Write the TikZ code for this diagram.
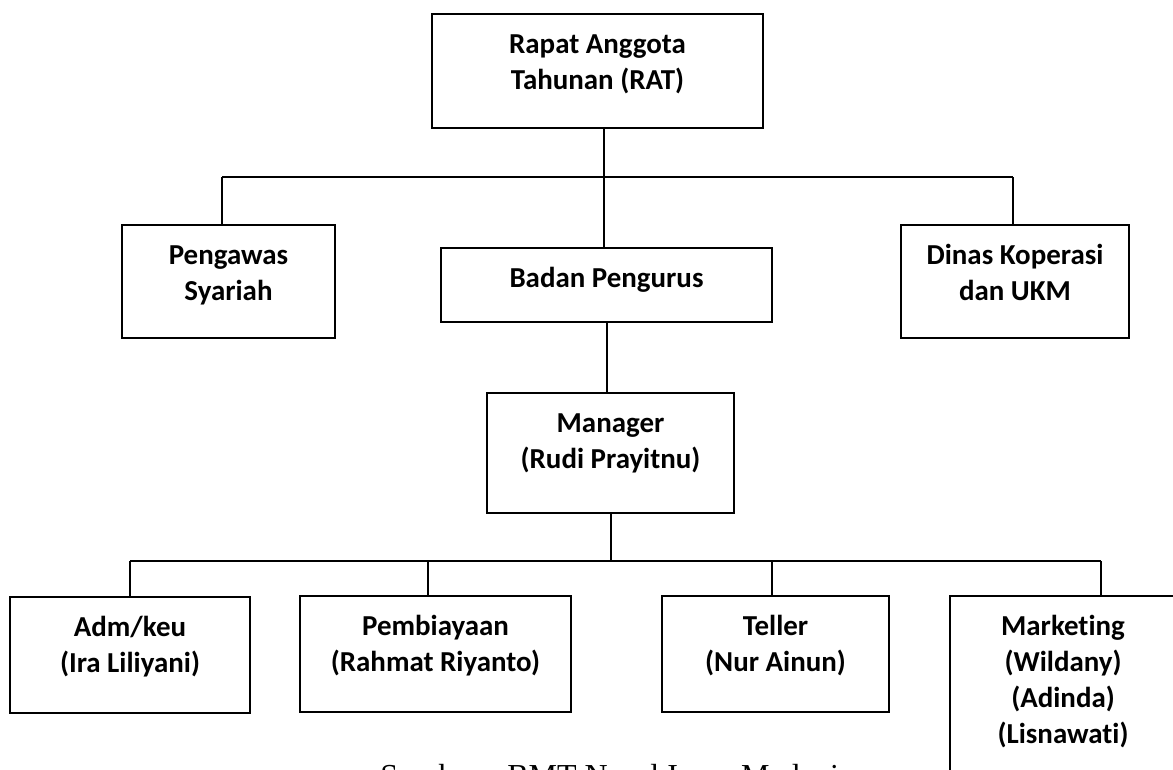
\documentclass[tikz,border=0pt]{standalone}
\usepackage{fontspec}
\setmainfont{Carlito}[Ligatures={NoCommon}]
\newfontfamily\srcfont{Liberation Serif}
\newdimen\px \px=0.75pt
\begin{document}
\begin{tikzpicture}[x=0.75pt,y=-0.75pt,
  box/.style={draw, line width=2pt, rectangle, inner sep=0pt, outer sep=0pt},
  lbl/.style={anchor=north, inner sep=0pt, align=center, font=\fontsize{21.7}{27}\selectfont\bfseries},
  conn/.style={line width=1.2pt}]
\useasboundingbox (0,0) rectangle (1173,769);
\fill[white] (0,0) rectangle (1173,769);

% boxes
\node[box, minimum width=331\px, minimum height=114\px] (rat) at (597.5,71) {};
\node[box, minimum width=213\px, minimum height=113\px] (peng) at (228.5,281.5) {};
\node[box, minimum width=331\px, minimum height=74\px] (badan) at (606.5,285) {};
\node[box, minimum width=228\px, minimum height=113\px] (dinas) at (1015,281.5) {};
\node[box, minimum width=247\px, minimum height=120\px] (mgr) at (610.5,453) {};
\node[box, minimum width=240\px, minimum height=116\px] (adm) at (130,655) {};
\node[box, minimum width=271\px, minimum height=116\px] (pemb) at (435.5,654) {};
\node[box, minimum width=227\px, minimum height=116\px] (tell) at (775.5,654) {};
\node[box, minimum width=226\px, minimum height=204\px] (mkt) at (1063,698) {};

% labels
\node[lbl] (ratT) at ([yshift=-10.7pt]rat.north) {\strut Rapat Anggota\\Tahunan (RAT)};
\node[lbl] (pengT) at ([yshift=-10.7pt]peng.north) {\strut Pengawas\\Syariah};
\node[lbl] (badanT) at ([yshift=-10.7pt]badan.north) {\strut Badan Pengurus};
\node[lbl] (dinasT) at ([yshift=-10.7pt]dinas.north) {\strut Dinas Koperasi\\dan UKM};
\node[lbl] (mgrT) at ([yshift=-10.7pt]mgr.north) {\strut Manager\\(Rudi Prayitnu)};
\node[lbl] (admT) at ([yshift=-10.7pt]adm.north) {\strut Adm/keu\\(Ira Liliyani)};
\node[lbl] (pembT) at ([yshift=-10.7pt]pemb.north) {\strut Pembiayaan\\(Rahmat Riyanto)};
\node[lbl] (tellT) at ([yshift=-10.7pt]tell.north) {\strut Teller\\(Nur Ainun)};
\node[lbl] (mktT) at ([yshift=-10.7pt]mkt.north) {\strut Marketing\\(Wildany)\\(Adinda)\\(Lisnawati)};

% junction coordinates
\coordinate (jm) at (604,177);
\coordinate (jl) at (222,177);
\coordinate (jr) at (1013,177);
\coordinate (s1) at (607,0);
\coordinate (bm) at (611,561);
\coordinate (b1) at (130,561);
\coordinate (b2) at (428,561);
\coordinate (b3) at (772,561);
\coordinate (b4) at (1101,561);

% connectors
\draw[conn] (rat.south -| jm) -- (badan.north -| jm);
\draw[conn] (jl) -- (jr);
\draw[conn] (jl) -- (peng.north -| jl);
\draw[conn] (jr) -- (dinas.north -| jr);
\draw[conn] (badan.south -| s1) -- (mgr.north -| s1);
\draw[conn] (mgr.south -| bm) -- (bm);
\draw[conn] (b1) -- (b4);
\draw[conn] (b1) -- (adm.north -| b1);
\draw[conn] (b2) -- (pemb.north -| b2);
\draw[conn] (b3) -- (tell.north -| b3);
\draw[conn] (b4) -- (mkt.north -| b4);

% source line (cut off by the page edge, as in the reference)
\node[anchor=base west, inner sep=0pt, font=\srcfont\fontsize{24}{29}\selectfont] (src) at (380,786.7) {Sumber : BMT Nurul Iman Madani};
\end{tikzpicture}
\end{document}
